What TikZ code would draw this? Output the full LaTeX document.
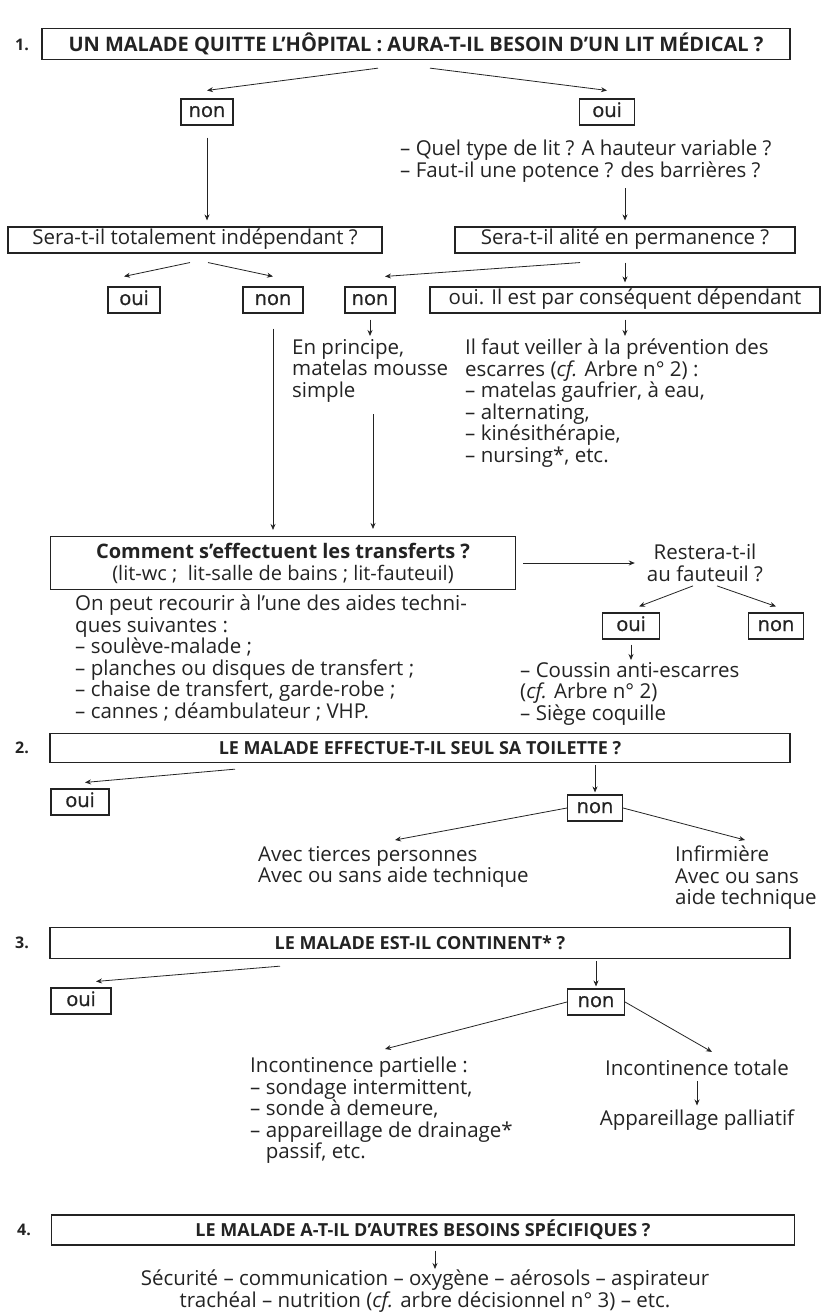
\documentclass[tikz,border=0pt]{standalone}
\usepackage{fontspec}
\setmainfont{Open Sans}
\newfontfamily\ansfont[FakeBold=1]{Open Sans}
\usetikzlibrary{arrows.meta, positioning, calc}
\definecolor{inkgray}{RGB}{35,35,35}

\begin{document}
\begin{tikzpicture}[
    x=1pt, y=-1pt,
    >={Stealth[length=6pt,width=5pt]},
    every node/.style={text=inkgray},
    qbox/.style={draw=inkgray, line width=1.3pt, minimum height=31pt, font=\fontsize{18}{20}\selectfont\bfseries, inner sep=2pt},
    ansbox/.style={draw=inkgray, line width=1.1pt, minimum height=26pt, inner sep=3pt, text height=14pt, text depth=4pt, font=\fontsize{20}{21.5}\selectfont\ansfont},
    wbox/.style={draw=inkgray, line width=1.1pt, minimum height=26pt, inner sep=3pt, text height=14pt, text depth=4pt, font=\fontsize{20.5}{21.5}\selectfont},
    note/.style={align=left, inner sep=0pt, font=\fontsize{20.5}{21.5}\selectfont},
    num/.style={font=\fontsize{16}{18}\selectfont\bfseries},
    arr/.style={->, draw=inkgray, line width=0.8pt},
]
    \useasboundingbox (0,0) rectangle (826,1313);

    % question 1
    \node[num] (n1) at (22,45) {1.};
    \node[qbox, minimum width=748pt, font=\fontsize{20}{22}\selectfont\bfseries] (q1) at (416,44) {UN MALADE QUITTE L’HÔPITAL : AURA-T-IL BESOIN D’UN LIT MÉDICAL ?};
    \node[ansbox, minimum width=52pt] (q1non) at (207,112) {non};
    \node[ansbox, minimum width=55pt] (q1oui) at (607,112) {oui};
    \node[note, anchor=north west] (lit) at (400,140) {– Quel type de lit ? A hauteur variable ?\\– Faut-il une potence ? des barrières ?};
    \draw[arr] ($(q1.south)+(-38,8)$) -- ($(q1non.north)+(0,-8)$);
    \draw[arr] ($(q1.south)+(14,8)$) -- ($(q1oui.north)+(0,-8)$);

    \node[wbox, minimum width=374pt] (indep) at (195,240) {Sera-t-il totalement indépendant ?};
    \node[wbox, minimum width=340pt] (alite) at (625,240) {Sera-t-il alité en permanence ?};
    \draw[arr, shorten <=12pt, shorten >=6pt] (q1non.south) -- (q1non.south |- indep.north);
    \draw[arr, shorten <=6pt, shorten >=6pt] (lit.south -| alite.north) -- (alite.north);

    \node[ansbox, minimum width=52pt] (indepoui) at (134,300) {oui};
    \node[ansbox, minimum width=60pt] (indepnon) at (273,300) {non};
    \node[ansbox, minimum width=50pt] (alitenon) at (370,300) {non};
    \node[wbox, minimum width=390pt] (aliteoui) at (625,300) {oui. Il est par conséquent dépendant};
    \draw[arr] ($(indep.south)+(-5,9)$) -- ($(indepoui.north)+(-10,-10)$);
    \draw[arr] ($(indep.south)+(13,9)$) -- ($(indepnon.north)+(0,-10)$);
    \draw[arr] ($(alite.south)+(-45,9)$) -- ($(alitenon.north)+(15,-10)$);
    \draw[arr, shorten <=9pt, shorten >=4pt] (alite.south) -- (aliteoui.north);

    \node[note, anchor=north west] (mousse) at (292,339) {En principe,\\matelas mousse\\simple};
    \node[note, anchor=north west] (escarres) at (465,339) {Il faut veiller à la prévention des\\escarres (\textit{cf.} Arbre n° 2) :\\– matelas gaufrier, à eau,\\– alternating,\\– kinésithérapie,\\– nursing*, etc.};
    \draw[arr, shorten <=6pt, shorten >=3pt] (alitenon.south) -- (alitenon.south |- mousse.north);
    \draw[arr, shorten <=6pt, shorten >=3pt] (aliteoui.south) -- (aliteoui.south |- escarres.north);

    % transferts
    \node[draw=inkgray, line width=1.1pt, minimum width=465pt, minimum height=53pt, inner sep=3pt, align=center, font=\fontsize{20}{22}\selectfont] (transf) at (283,563) {\textbf{Comment s’effectuent les transferts ?}\\(lit-wc ;\ \ lit-salle de bains ; lit-fauteuil)};
    \draw[arr, shorten <=15pt, shorten >=6pt] (indepnon.south) -- (indepnon.south |- transf.north);
    \draw[arr] ($(mousse.south west)+(81,12)$) -- ($(transf.north)+(90,-7)$);

    \node[note, align=center] (rester) at (705,563) {Restera-t-il\\au fauteuil ?};
    \draw[arr, shorten <=7pt, shorten >=12pt] (transf.east) -- (rester.west);
    \node[ansbox, minimum width=57pt] (resteroui) at (631,626) {oui};
    \node[ansbox, minimum width=55pt] (resternon) at (776,626) {non};
    \draw[arr] ($(rester.south)+(-12,4)$) -- ($(resteroui.north)+(8,-6)$);
    \draw[arr] ($(rester.south)+(12,4)$) -- ($(resternon.north)+(0,-6)$);
    \node[note, anchor=north west] (coussin) at (520,662) {– Coussin anti-escarres\\(\textit{cf.} Arbre n° 2)\\– Siège coquille};
    \draw[arr, shorten <=5pt, shorten >=2pt] (resteroui.south) -- (resteroui.south |- coussin.north);

    \node[note, anchor=north west] (aides) at (75,595) {On peut recourir à l’une des aides techni-\\ques suivantes :\\– soulève-malade ;\\– planches ou disques de transfert ;\\– chaise de transfert, garde-robe ;\\– cannes ; déambulateur ; VHP.};

    % question 2
    \node[num] (n2) at (22,748) {2.};
    \node[qbox, minimum width=740pt, minimum height=29pt] (q2) at (420,748) {LE MALADE EFFECTUE-T-IL SEUL SA TOILETTE ?};
    \node[ansbox, minimum width=58pt] (q2oui) at (80,802) {oui};
    \node[ansbox, minimum width=55pt] (q2non) at (595,808) {non};
    \draw[arr] ($(q2.south)+(-185,6)$) -- ($(q2oui.north)+(5,-6)$);
    \draw[arr, shorten <=2pt, shorten >=2pt] (q2.south -| q2non.north) -- (q2non.north);
    \node[note, anchor=north west] (tierces) at (258,846) {Avec tierces personnes\\Avec ou sans aide technique};
    \node[note, anchor=north west] (infirm) at (675,846) {Infirmière\\Avec ou sans\\aide technique};
    \draw[arr] (q2non.west) -- ($(tierces.north west)+(137,-6)$);
    \draw[arr] (q2non.east) -- ($(infirm.north west)+(70,-6)$);

    % question 3
    \node[num] (n3) at (22,943) {3.};
    \node[qbox, minimum width=740pt] (q3) at (420,943) {LE MALADE EST-IL CONTINENT* ?};
    \node[ansbox, minimum width=60pt] (q3oui) at (81,1001) {oui};
    \node[ansbox, minimum width=57pt] (q3non) at (596,1002) {non};
    \draw[arr] ($(q3.south)+(-140,7)$) -- ($(q3oui.north)+(15,-6)$);
    \draw[arr, shorten <=2pt, shorten >=2pt] (q3.south -| q3non.north) -- (q3non.north);
    \node[note, anchor=north west] (partielle) at (250,1057) {Incontinence partielle :\\– sondage intermittent,\\– sonde à demeure,\\– appareillage de drainage*\\\phantom{– }passif, etc.};
    \node[note] (totale) at (697,1068) {Incontinence totale};
    \node[note] (palliatif) at (697,1120) {Appareillage palliatif};
    \draw[arr] (q3non.west) -- ($(partielle.north west)+(135,-8)$);
    \draw[arr] (q3non.east) -- ($(totale.north)+(15,-8)$);
    \draw[arr, shorten <=5pt, shorten >=4pt] (totale.south) -- (palliatif.north);

    % question 4
    \node[num] (n4) at (24,1230) {4.};
    \node[qbox, minimum width=743pt, minimum height=30pt] (q4) at (423,1230) {LE MALADE A-T-IL D’AUTRES BESOINS SPÉCIFIQUES ?};
    \node[note, align=center, anchor=north] (besoins) at (425,1270) {Sécurité – communication – oxygène – aérosols – aspirateur\\trachéal – nutrition (\textit{cf.} arbre décisionnel n° 3) – etc.};
    \coordinate (q4foot) at ($(q4.south)+(12,0)$);
    \draw[arr, shorten <=5pt, shorten >=1pt] (q4foot) -- (q4foot |- besoins.north);
\end{tikzpicture}
\end{document}
